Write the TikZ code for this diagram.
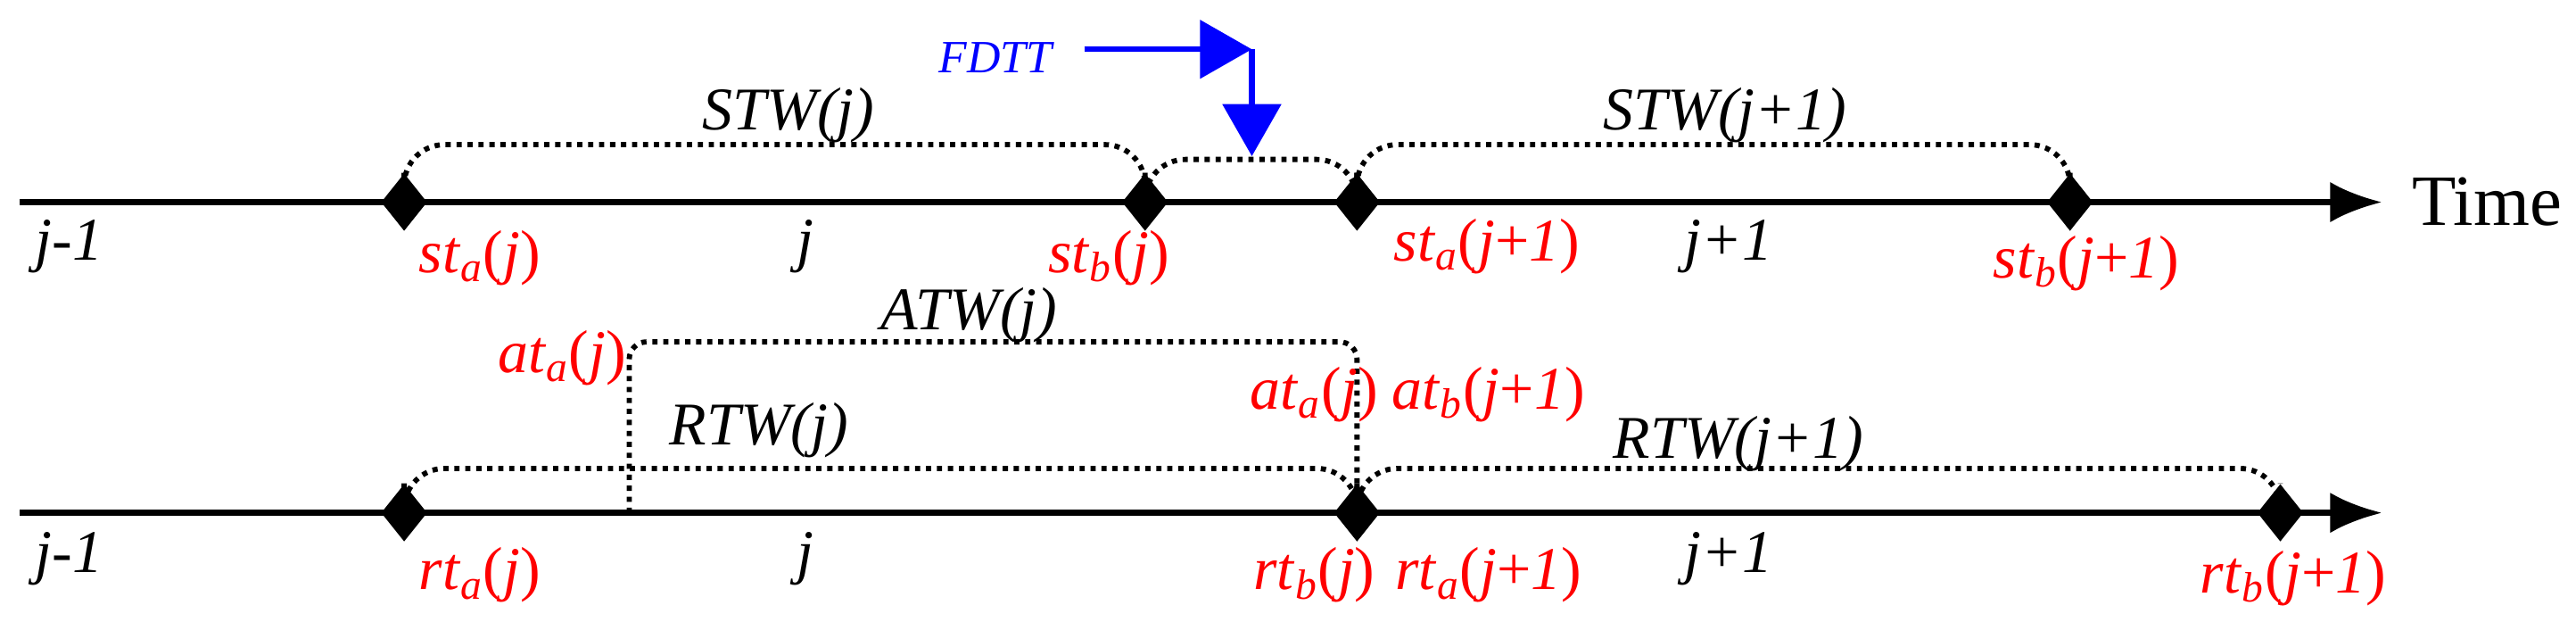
\documentclass[tikz,border=0pt]{standalone}
\usepackage{fontspec}
\setmainfont{Liberation Serif}
\usetikzlibrary{arrows.meta,shapes.geometric}
\newcommand{\lb}[2]{\textit{#1}\textsubscript{\textit{#2}}}
\begin{document}
\begin{tikzpicture}[x=0.02cm,y=-0.02cm,
    font=\fontsize{21}{24}\selectfont\itshape,
    axis/.style={line width=2.2pt,-{Latex[length=18pt,width=14pt]}},
    tick/.style={diamond,fill=black,inner sep=0pt,minimum width=16pt,minimum height=20pt},
    win/.style={dotted,line width=1.8pt,rounded corners=14pt},
    red lbl/.style={red,font=\fontsize{21}{24}\selectfont}]
    \useasboundingbox (0,0) rectangle (1568,378);
    % top time line
    \coordinate (t0) at (12,123);
    \coordinate (t1) at (1450,123);
    \draw [axis] (t0) -- (t1);
    \node [font=\fontsize{25}{28}\selectfont,anchor=west] (time) at (1462,123) {Time};
    \foreach \n/\x in {sa/246,sb/697,sc/826,sd/1260}
        \node [tick] (\n) at (\x,123) {};
    \draw [win] (sa.north) |- (480,88) -| (sb.north);
    \draw [win] (sb.north) |- (760,97) -| (sc.north);
    \draw [win] (sc.north) |- (1040,88) -| (sd.north);
    \node (stwj) at (480,70) {STW(j)};
    \node (stwk) at (1050,70) {STW(j+1)};
    \node at (42,150) {j-1};
    \node at (490,150) {j};
    \node at (1052,150) {j+1};
    \node [red lbl] at (292,157) {\lb{st}{a}(\textit{j})};
    \node [red lbl] at (675,157) {\lb{st}{b}(\textit{j})};
    \node [red lbl] at (905,150) {\lb{st}{a}(\textit{j}+\textit{1})};
    \node [red lbl] at (1270,160) {\lb{st}{b}(\textit{j}+\textit{1})};
    % FDTT arrow
    \node [blue,font=\fontsize{16}{18}\selectfont\itshape] (fdtt) at (606,35) {FDTT};
    \coordinate (f0) at (660,30);
    \coordinate (f1) at (762,30);
    \coordinate (f2) at (762,95);
    \draw [blue,line width=2pt,-{Triangle[length=18pt,width=20pt]}] (f0) -- (f1);
    \draw [blue,line width=2pt,-{Triangle[length=18pt,width=20pt]}] (f1) -- (f2);
    % bottom time line
    \coordinate (b0) at (12,312);
    \coordinate (b1) at (1450,312);
    \draw [axis] (b0) -- (b1);
    \foreach \n/\x in {ra/246,rb/826,rc/1388}
        \node [tick] (\n) at (\x,312) {};
    \coordinate (aa) at (383,312);
    \draw [win] (ra.north) |- (530,285) -| (rb.north);
    \draw [win] (rb.north) |- (1100,285) -| (rc.north);
    \draw [dotted,line width=1.8pt,rounded corners=6pt] (aa) |- (826,208) -- (rb.north);
    \node at (590,192) {ATW(j)};
    \node at (462,262) {RTW(j)};
    \node at (1058,270) {RTW(j+1)};
    \node [red lbl] at (342,218) {\lb{at}{a}(\textit{j})};
    \node [red lbl] at (800,240) {\lb{at}{a}(\textit{j})};
    \node [red lbl] at (906,240) {\lb{at}{b}(\textit{j}+\textit{1})};
    \node at (42,340) {j-1};
    \node at (490,340) {j};
    \node at (1052,340) {j+1};
    \node [red lbl] at (292,350) {\lb{rt}{a}(\textit{j})};
    \node [red lbl] at (800,350) {\lb{rt}{b}(\textit{j})};
    \node [red lbl] at (906,350) {\lb{rt}{a}(\textit{j}+\textit{1})};
    \node [red lbl] at (1396,352) {\lb{rt}{b}(\textit{j}+\textit{1})};
\end{tikzpicture}
\end{document}
